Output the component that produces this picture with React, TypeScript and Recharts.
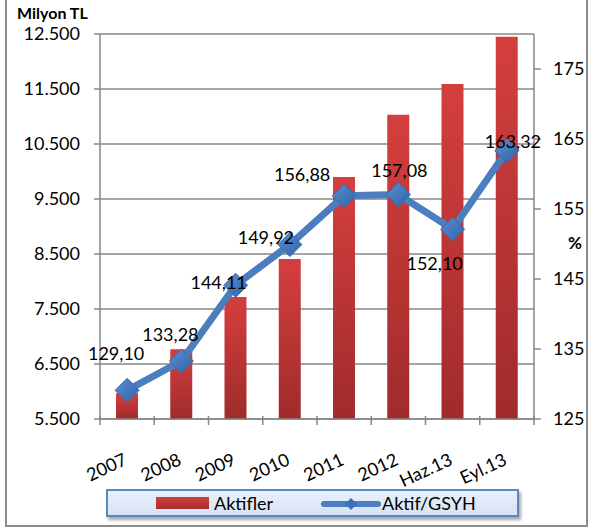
import React from 'react';
import {
  ComposedChart, Bar, Line, XAxis, YAxis, CartesianGrid, LabelList, Legend,
} from 'recharts';

const categories = ['2007', '2008', '2009', '2010', '2011', '2012', 'Haz.13', 'Eyl.13'];
const aktifler = [5970, 6770, 7720, 8410, 9900, 11030, 11590, 12450];
const aktifGsyh = [129.1, 133.28, 144.11, 149.92, 156.88, 157.08, 152.1, 163.32];
const leftTicks = [5500, 6500, 7500, 8500, 9500, 10500, 11500, 12500];
const rightTicks = [125, 135, 145, 155, 165, 175];

const data = categories.map((c, i) => ({ name: c, aktifler: aktifler[i], oran: aktifGsyh[i] }));

// layout / style constants
const W = 591;
const H = 528;
const LEFT_W = 100;
const RIGHT_W = 57;
const TOP = 34;
const XAXIS_H = 109;
const HALF_BAND = (W - LEFT_W - RIGHT_W) / categories.length / 2;
const FONT = 'Lato, "Open Sans", sans-serif';
const FS = 18;
const GRAY = '#878787';
const LINE_BLUE = '#4a7ebf';

const LABEL_OFFSETS: [number, number][] = [
  [-11, -37], [-11, -27], [-17, -3], [-24, -8], [-42, -22], [1, -24], [-18, 34], [6, -10],
];

const fmtThousands = (v: number) => String(v).replace(/\B(?=(\d{3})+(?!\d))/g, '.');
const fmtComma = (v: number) => v.toFixed(2).replace('.', ',');

const XTick = (props: any) => {
  const { x, y, payload, index } = props;
  const last = index === categories.length - 1;
  const tx = x + 1;
  const ty = y + 45;
  return (
    <g>
      <line x1={x - HALF_BAND} x2={x - HALF_BAND} y1={y - 3} y2={y + 6} stroke={GRAY} strokeWidth={1.5} />
      {last && (
        <line x1={x + HALF_BAND} x2={x + HALF_BAND} y1={y - 3} y2={y + 6} stroke={GRAY} strokeWidth={1.5} />
      )}
      <text
        x={tx}
        y={ty}
        textAnchor="end"
        transform={`rotate(-25, ${tx}, ${ty})`}
        fontFamily={FONT}
        fontSize={FS}
        fill="#000"
      >
        {payload.value}
      </text>
    </g>
  );
};

const Diamond = (props: any) => {
  const { cx, cy } = props;
  if (cx == null || cy == null) return null;
  const r = 12;
  return (
    <polygon
      points={`${cx},${cy - r} ${cx + r},${cy} ${cx},${cy + r} ${cx - r},${cy}`}
      fill="url(#diamondGrad)"
      stroke="#3a6aa8"
      strokeWidth={1}
    />
  );
};

const PointLabel = (props: any) => {
  const { x, y, value, index } = props;
  const [dx, dy] = LABEL_OFFSETS[index] || [0, -20];
  return (
    <text
      x={x + dx}
      y={y + dy}
      textAnchor="middle"
      dominantBaseline="central"
      fontFamily={FONT}
      fontSize={FS}
      fill="#000"
    >
      {fmtComma(value)}
    </text>
  );
};

const LegendContent = () => (
  <div
    style={{
      boxSizing: 'border-box',
      width: 413,
      height: 28,
      border: '2px solid #5b87c5',
      background: 'linear-gradient(#e9f0fa, #d6e2f4)',
      boxShadow: '2px 3px 3px rgba(0,0,0,0.35)',
      position: 'relative',
      fontFamily: FONT,
      fontSize: FS,
      color: '#000',
    }}
  >
    <div
      style={{
        position: 'absolute', left: 48, top: 6, width: 53, height: 12,
        background: 'linear-gradient(#d33e3e, #a52d2d)',
      }}
    />
    <span style={{ position: 'absolute', left: 106, top: 1, lineHeight: '22px' }}>Aktifler</span>
    <svg style={{ position: 'absolute', left: 212, top: 4 }} width={62} height={18}>
      <line x1={4} x2={58} y1={9} y2={9} stroke={LINE_BLUE} strokeWidth={6} strokeLinecap="round" />
      <polygon points="31,3 37,9 31,15 25,9" fill="#3d70b4" />
    </svg>
    <span style={{ position: 'absolute', left: 274, top: 1, lineHeight: '22px' }}>Aktif/GSYH</span>
  </div>
);

export default function App() {
  return (
    <div
      style={{
        position: 'absolute', left: 0, top: 0, width: W, height: H, background: '#fff',
      }}
    >
      <div
        style={{
          position: 'absolute', left: 5, top: -2, width: 583, height: 529,
          boxSizing: 'border-box',
          borderLeft: '2px solid #8c8c8c', borderRight: '2px solid #8c8c8c', borderBottom: '2px solid #8c8c8c',
        }}
      />
      <ComposedChart
        width={W}
        height={H}
        data={data}
        margin={{ top: TOP, right: 0, left: 0, bottom: 0 }}
        barCategoryGap={0}
      >
        <defs>
          <linearGradient id="barGrad" x1="0" y1="0" x2="0" y2="1">
            <stop offset="0%" stopColor="#d43f3e" />
            <stop offset="100%" stopColor="#a02b2b" />
          </linearGradient>
          <linearGradient id="diamondGrad" x1="0" y1="0" x2="1" y2="1">
            <stop offset="0%" stopColor="#5b8fd0" />
            <stop offset="100%" stopColor="#2f63a8" />
          </linearGradient>
        </defs>
        <CartesianGrid vertical={false} stroke={GRAY} strokeWidth={1.5} yAxisId="left" />
        <XAxis
          dataKey="name"
          height={XAXIS_H}
          tickLine={false}
          tickSize={0}
          tickMargin={0}
          interval={0}
          axisLine={{ stroke: GRAY, strokeWidth: 1.5 }}
          tick={<XTick />}
        />
        <YAxis
          yAxisId="left"
          orientation="left"
          width={LEFT_W}
          domain={[5500, 12500]}
          ticks={leftTicks}
          interval={0}
          allowDataOverflow
          tickFormatter={fmtThousands}
          tickSize={6}
          tickMargin={14}
          tickLine={{ stroke: GRAY, strokeWidth: 1.5 }}
          axisLine={{ stroke: GRAY, strokeWidth: 1.5 }}
          tick={{ fontFamily: FONT, fontSize: FS, fill: '#000' }}
          label={{
            content: (p: any) => (
              <text
                x={(p.viewBox?.x ?? 0) + 17}
                y={(p.viewBox?.y ?? TOP) - 15}
                fontFamily={FONT}
                fontSize={16}
                fontWeight="bold"
                fill="#000"
              >
                Milyon TL
              </text>
            ),
          }}
        />
        <YAxis
          yAxisId="right"
          orientation="right"
          width={RIGHT_W}
          domain={[125, 180]}
          ticks={rightTicks}
          interval={0}
          allowDataOverflow
          tickSize={7}
          tickMargin={12}
          tickLine={{ stroke: GRAY, strokeWidth: 1.5 }}
          axisLine={{ stroke: GRAY, strokeWidth: 1.5 }}
          tick={{ fontFamily: FONT, fontSize: FS, fill: '#000' }}
          label={{
            content: (p: any) => (
              <text
                x={(p.viewBox?.x ?? 534) + 48}
                y={(p.viewBox?.y ?? TOP) + (p.viewBox?.height ?? 385) / 2 + 16}
                textAnchor="end"
                dominantBaseline="central"
                fontFamily={FONT}
                fontSize={17}
                fontWeight="bold"
                fill="#000"
              >
                %
              </text>
            ),
          }}
        />
        <Bar
          yAxisId="left"
          dataKey="aktifler"
          barSize={22}
          fill="url(#barGrad)"
          isAnimationActive={false}
        />
        <Line
          yAxisId="right"
          dataKey="oran"
          stroke={LINE_BLUE}
          strokeWidth={7}
          dot={<Diamond />}
          activeDot={false}
          isAnimationActive={false}
        >
          <LabelList dataKey="oran" content={<PointLabel />} />
        </Line>
        <Legend
          layout="horizontal"
          verticalAlign="middle"
          align="center"
          wrapperStyle={{ left: 106, top: 489, width: 413, height: 28 }}
          content={<LegendContent />}
        />
      </ComposedChart>
    </div>
  );
}
